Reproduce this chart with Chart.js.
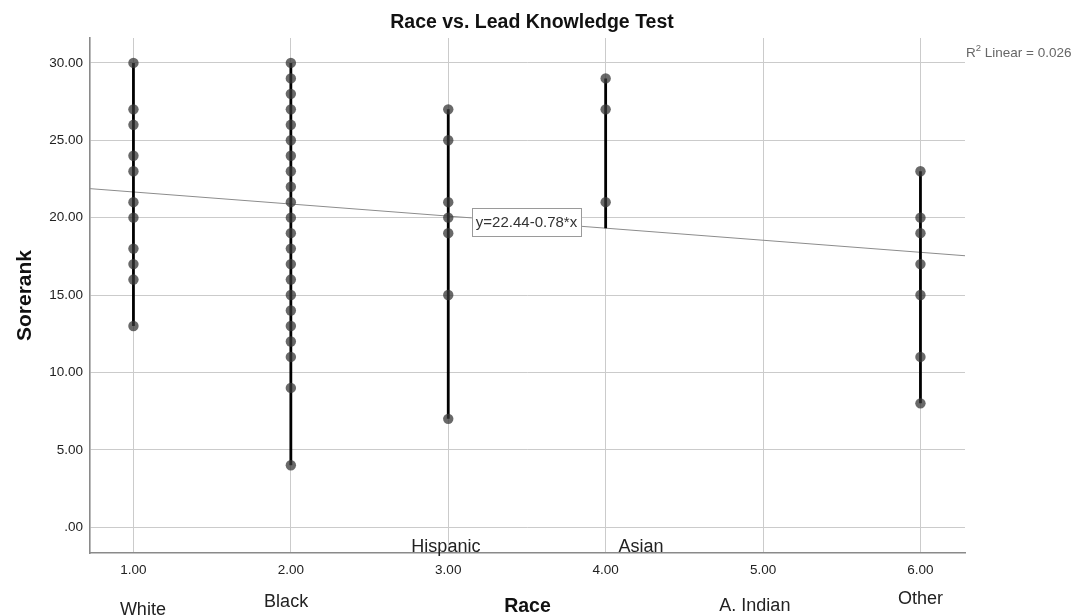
<!DOCTYPE html>
<html>
<head>
<meta charset="utf-8">
<title>Race vs. Lead Knowledge Test</title>
<script src="https://cdn.jsdelivr.net/npm/chart.js@4.4.1/dist/chart.umd.min.js"></script>
<style>
  html, body { margin: 0; padding: 0; background: #fff; }
  #chart { display: block; }
</style>
</head>
<body>
<canvas id="chart" width="1078" height="615"></canvas>
<script>
// data
const categories = ["White", "Black", "Hispanic", "Asian", "A. Indian", "Other"];
const categoryCodes = [1, 2, 3, 4, 5, 6];

const whiteScores = [30, 27, 26, 24, 23, 21, 20, 18, 17, 16, 13];
const blackScores = [30, 29, 28, 27, 26, 25, 24, 23, 22, 21, 20, 19, 18, 17, 16, 15, 14, 13, 12, 11, 9, 4];
const hispanicScores = [27, 25, 21, 20, 19, 15, 7];
const asianScores = [29, 27, 21];
const aIndianScores = [];
const otherScores = [23, 20, 19, 17, 15, 11, 8];
const groupScores = [whiteScores, blackScores, hispanicScores, asianScores, aIndianScores, otherScores];

// fit shown on the chart
const fitIntercept = 22.44;
const fitSlope = -0.78;
const rSquared = 0.026;

const xMin = 0.724, xMax = 6.283;
const yMin = -1.67, yMax = 31.61;

const FONT = "'Liberation Sans', Arial, sans-serif";

function fitAt(x) { return fitIntercept + fitSlope * x; }

// points, spikes to the fit line
const pointData = [];
const spikeData = [];
categoryCodes.forEach((code, i) => {
    groupScores[i].forEach(v => {
        pointData.push({ x: code, y: v });
        spikeData.push({ x: code, y: v }, { x: code, y: fitAt(code) }, { x: code, y: null });
    });
});
const fitData = [{ x: xMin, y: fitAt(xMin) }, { x: xMax, y: fitAt(xMax) }];

// free text placed like the SPSS text boxes (x in data units, y = baseline px)
const textBoxes = [
    { text: "White", x: 1.06, y: 615 },
    { text: "Black", x: 1.97, y: 607 },
    { text: "Hispanic", x: 2.985, y: 552 },
    { text: "Asian", x: 4.224, y: 552 },
    { text: "A. Indian", x: 4.948, y: 611 },
    { text: "Other", x: 6.0, y: 604 }
];

const textPlugin = {
    id: "spssText",
    afterDatasetsDraw(chart) {
        const ctx = chart.ctx;
        const xs = chart.scales.x, ys = chart.scales.y;
        const area = chart.chartArea;
        ctx.save();

        // equation box
        const bx = xs.getPixelForValue(3.15), by = ys.getPixelForValue(19.73);
        const label = `y=${fitIntercept.toFixed(2)}${fitSlope.toFixed(2)}*x`;
        ctx.font = `15px ${FONT}`;
        const w = ctx.measureText(label).width + 8;
        ctx.fillStyle = "#fff";
        ctx.fillRect(bx, by - 14, w, 28);
        ctx.strokeStyle = "#9a9a9a";
        ctx.lineWidth = 1;
        ctx.strokeRect(Math.round(bx) + 0.5, Math.round(by - 14) + 0.5, Math.round(w), 28);
        ctx.fillStyle = "#333";
        ctx.textBaseline = "middle";
        ctx.textAlign = "left";
        ctx.fillText(label, bx + 4, by + 1);

        // category text boxes
        ctx.textBaseline = "alphabetic";
        ctx.textAlign = "center";
        ctx.font = `18px ${FONT}`;
        ctx.fillStyle = "#222";
        textBoxes.forEach(t => ctx.fillText(t.text, xs.getPixelForValue(t.x), t.y));

        // title
        ctx.font = `bold 19.5px ${FONT}`;
        ctx.fillStyle = "#111";
        ctx.fillText("Race vs. Lead Knowledge Test", 532, 28);

        // axis titles
        ctx.font = `bold 19.5px ${FONT}`;
        ctx.fillText("Race", (area.left + area.right) / 2, 612);
        ctx.save();
        ctx.translate(31, (area.top + area.bottom) / 2);
        ctx.rotate(-Math.PI / 2);
        ctx.font = `bold 21px ${FONT}`;
        ctx.fillText("Sorerank", 0, 0);
        ctx.restore();

        // R² label
        ctx.textAlign = "left";
        ctx.fillStyle = "#666";
        ctx.font = `13.5px ${FONT}`;
        let x = area.right + 1;
        ctx.fillText("R", x, 57);
        x += ctx.measureText("R").width;
        ctx.font = `9.5px ${FONT}`;
        ctx.fillText("2", x, 51);
        x += ctx.measureText("2").width;
        ctx.font = `13.5px ${FONT}`;
        ctx.fillText(` Linear = ${rSquared.toFixed(3)}`, x, 57);

        ctx.restore();
    }
};

new Chart(document.getElementById("chart"), {
    type: "scatter",
    data: {
        datasets: [
            {
                label: "Sorerank",
                data: pointData,
                pointRadius: 5.2,
                pointHoverRadius: 5.2,
                pointBackgroundColor: "rgba(55,55,55,0.75)",
                pointBorderWidth: 0,
                order: 0
            },
            {
                type: "line",
                label: "spikes",
                data: spikeData,
                borderColor: "#000",
                borderWidth: 2.8,
                pointRadius: 0,
                spanGaps: false,
                fill: false,
                order: 1
            },
            {
                type: "line",
                label: "Linear",
                data: fitData,
                borderColor: "#8c8c8c",
                borderWidth: 1,
                pointRadius: 0,
                fill: false,
                order: 2
            }
        ]
    },
    options: {
        responsive: false,
        animation: false,
        devicePixelRatio: 1,
        layout: { padding: { top: 38, right: 113, left: 0, bottom: 0 } },
        plugins: {
            legend: { display: false },
            title: { display: false },
            tooltip: { enabled: false }
        },
        scales: {
            x: {
                type: "linear",
                min: xMin,
                max: xMax,
                afterFit(scale) { scale.height = 62; },
                grid: { color: "#cbcbcb", lineWidth: 1, drawTicks: false },
                border: { color: "#8a8a8a", width: 1.6 },
                ticks: {
                    stepSize: 1,
                    includeBounds: false,
                    autoSkip: false,
                    maxRotation: 0,
                    padding: 9,
                    color: "#222",
                    font: { family: FONT, size: 13.5 },
                    callback: v => v.toFixed(2)
                }
            },
            y: {
                type: "linear",
                min: yMin,
                max: yMax,
                afterFit(scale) { scale.width = 90; },
                grid: { color: "#cbcbcb", lineWidth: 1, drawTicks: false },
                border: { color: "#8a8a8a", width: 1.6 },
                ticks: {
                    stepSize: 5,
                    includeBounds: false,
                    padding: 7,
                    color: "#222",
                    font: { family: FONT, size: 13.5 },
                    callback: v => v === 0 ? ".00" : v.toFixed(2)
                }
            }
        }
    },
    plugins: [textPlugin]
});
</script>
</body>
</html>
